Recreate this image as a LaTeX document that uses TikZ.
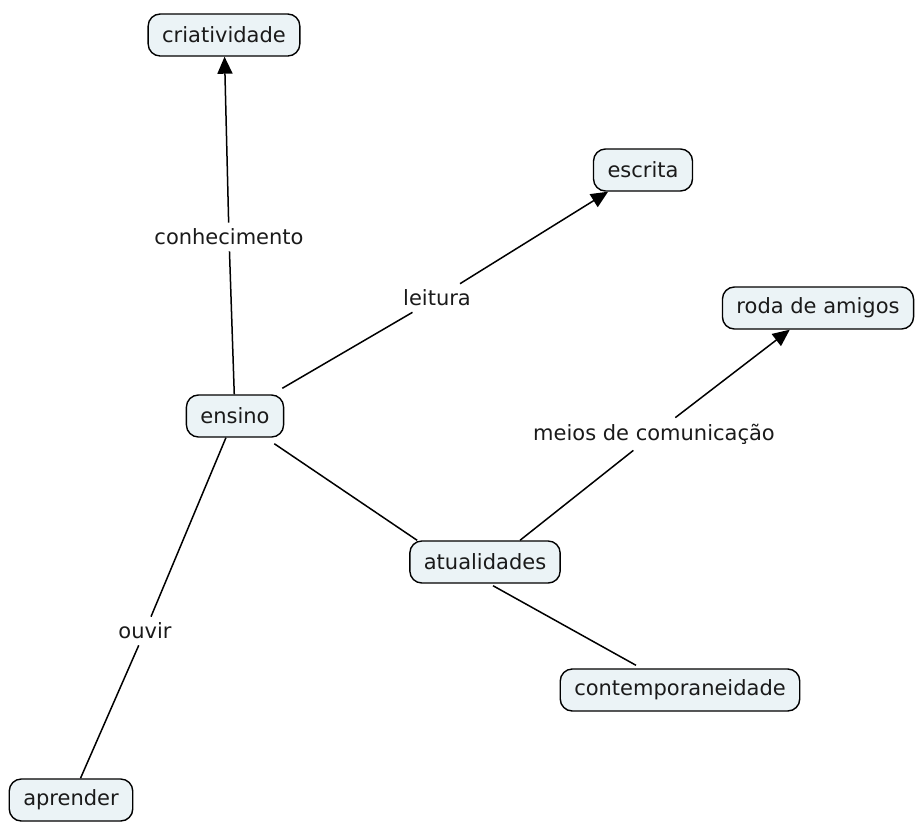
\documentclass[tikz,border=0pt]{standalone}
\usepackage{fontspec}
\setmainfont{DejaVu Sans}
\usetikzlibrary{arrows.meta}
\definecolor{boxfill}{HTML}{EBF3F6}
\definecolor{inktext}{HTML}{1A1A1A}
\begin{document}
\begin{tikzpicture}[x=1pt,y=-1pt,
  concept/.style={draw=black, line width=1.4pt, rounded corners=12pt, fill=boxfill,
    inner xsep=14pt, inner ysep=4pt, minimum height=42pt,
    font=\fontsize{21}{24}\selectfont, text=inktext},
  linklabel/.style={inner sep=6pt, font=\fontsize{21}{24}\selectfont, text=inktext},
  link/.style={line width=1.5pt},
  arrowlink/.style={link, -{Triangle[length=17pt,width=15pt]}}]
\useasboundingbox (0,0) rectangle (916,828);

% concepts
\node[concept] (criatividade) at (224,35) {criatividade};
\node[concept] (escrita) at (643,170) {escrita};
\node[concept] (roda) at (818,308) {roda de amigos};
\node[concept] (ensino) at (235,416) {ensino};
\node[concept] (atualidades) at (485,562) {atualidades};
\node[concept] (contemp) at (680,690) {contemporaneidade};
\node[concept] (aprender) at (71,800) {aprender};

% linking phrases
\node[linklabel] (conhecimento) at (229,237) {conhecimento};
\node[linklabel] (leitura) at (437,298) {leitura};
\node[linklabel] (meios) at (654,434) {meios de comunicação};
\node[linklabel] (ouvir) at (145,631) {ouvir};

% connections (shifts are in canvas units: positive yshift is upward)
\draw[link] (ensino) -- (conhecimento);
\draw[arrowlink] (conhecimento) -- (criatividade);
\draw[link] ([xshift=-2pt,yshift=6pt]ensino.north east) -- (leitura);
\draw[arrowlink] (leitura) -- (escrita);
\draw[link] ([xshift=-10pt,yshift=-6pt]ensino.south east) -- ([xshift=8pt]atualidades.north west);
\draw[link] ([xshift=35pt]atualidades.north) -- (meios);
\draw[arrowlink] (meios) -- (roda);
\draw[link] ([xshift=8pt,yshift=-2pt]atualidades.south) -- ([xshift=-44pt,yshift=3pt]contemp.north);
\draw[link] (ensino) -- (ouvir);
\draw[link] (ouvir) -- (aprender);
\end{tikzpicture}
\end{document}
